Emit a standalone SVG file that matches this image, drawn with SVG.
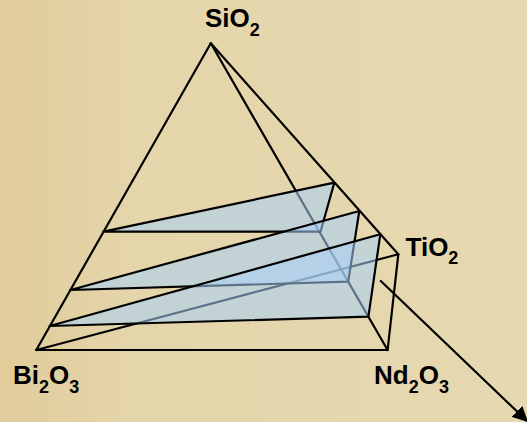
<svg xmlns="http://www.w3.org/2000/svg" width="527" height="422" viewBox="0 0 527 422">
  <defs>
    <linearGradient id="bg" x1="0" y1="0" x2="1" y2="0">
      <stop offset="0" stop-color="#e1cc9b"/>
      <stop offset="0.25" stop-color="#e4d5aa"/>
      <stop offset="1" stop-color="#e6d8b0"/>
    </linearGradient>
    <marker id="arrow" viewBox="0 0 10 10" refX="9" refY="5" markerWidth="7" markerHeight="7" markerUnits="strokeWidth" orient="auto">
      <path d="M0,0 L10,5 L0,10 z" fill="#000"/>
    </marker>
    <style>
      .edge { stroke: #000; stroke-width: 2.2; fill: none; stroke-linecap: round; stroke-linejoin: round; }
      .plane { fill: #a8cff8; fill-opacity: 0.55; stroke: #000; stroke-width: 2.2; stroke-linejoin: round; }
      .lbl { font-family: "Liberation Sans", Arial, sans-serif; font-weight: bold; font-size: 26px; fill: #000; }
      .sub { font-size: 18px; }
    </style>
  </defs>
  <rect x="0" y="0" width="527" height="422" fill="url(#bg)"/>

  <g id="edges">
    <line class="edge" x1="210.8" y1="43.3" x2="36.3" y2="350"/>
    <line class="edge" x1="210.8" y1="43.3" x2="387.6" y2="350"/>
    <line class="edge" x1="210.8" y1="43.3" x2="398.3" y2="254.3"/>
    <line class="edge" x1="36.3" y1="350" x2="387.6" y2="350"/>
    <line class="edge" x1="387.6" y1="350" x2="398.3" y2="254.3"/>
    <line class="edge" x1="36.3" y1="350" x2="398.3" y2="254.3"/>
  </g>

  <g id="planes">
    <polygon id="plane1" class="plane" points="103.4,231.7 334.3,182.7 320.5,231.7"/>
    <polygon id="plane2" class="plane" points="70.4,290 359.3,211 348.2,281.7"/>
    <polygon id="plane3" class="plane" points="49.6,326 380.3,234.3 368.4,316.7"/>
  </g>

  <g id="connectors">
    <line class="edge" x1="380.8" y1="281" x2="527" y2="421" marker-end="url(#arrow)"/>
  </g>

  <g id="node-SiO2">
    <text class="lbl" x="205" y="27">SiO<tspan class="sub" dy="9">2</tspan></text>
  </g>
  <g id="node-TiO2">
    <text class="lbl" x="405.5" y="255.5">TiO<tspan class="sub" dy="8">2</tspan></text>
  </g>
  <g id="node-Bi2O3">
    <text class="lbl" x="13" y="384">Bi<tspan class="sub" dy="9">2</tspan><tspan dy="-9">O</tspan><tspan class="sub" dy="9">3</tspan></text>
  </g>
  <g id="node-Nd2O3">
    <text class="lbl" x="374" y="384">Nd<tspan class="sub" dy="9">2</tspan><tspan dy="-9">O</tspan><tspan class="sub" dy="9">3</tspan></text>
  </g>
</svg>
